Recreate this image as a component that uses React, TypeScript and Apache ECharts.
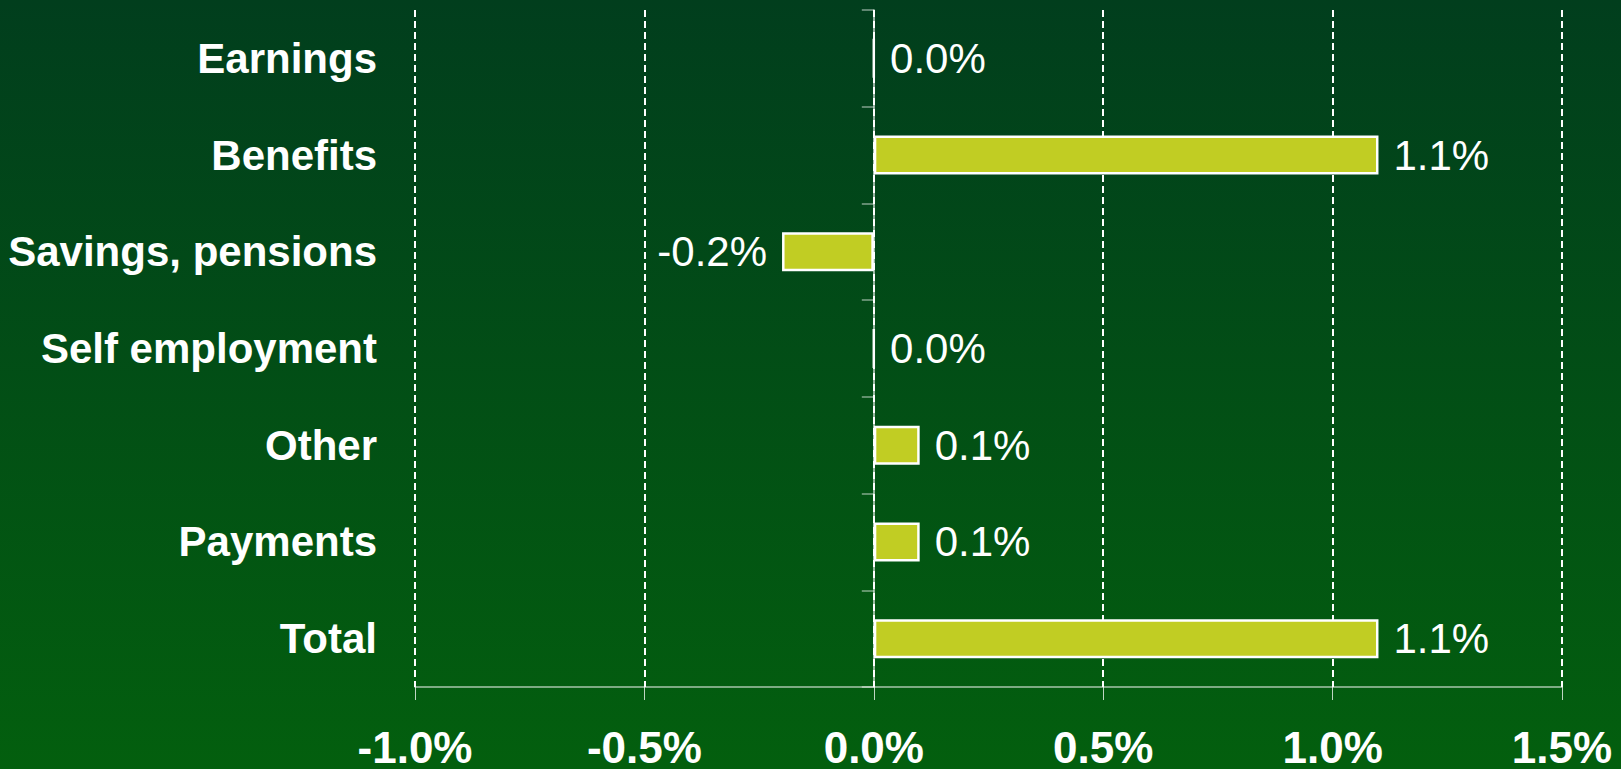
import React, { useEffect, useRef } from "react";
import * as echarts from "echarts";

const categories = ["Earnings", "Benefits", "Savings, pensions", "Self employment", "Other", "Payments", "Total"];
const values = [0.0, 1.1, -0.2, 0.0, 0.1, 0.1, 1.1];
const xTicks = { min: -1.0, max: 1.5, interval: 0.5 };

const FONT = "'Liberation Sans', Arial, Helvetica, sans-serif";

export default function App() {
  const ref = useRef<HTMLDivElement>(null);
  useEffect(() => {
    if (!ref.current) return;
    const chart = echarts.init(ref.current, null, { renderer: "svg" });
    const pct = (v: number) => v.toFixed(1) + "%";
    chart.setOption({
      animation: false,
      backgroundColor: "transparent",
      grid: { left: 415, right: 59, top: 10, bottom: 79, containLabel: false },
      xAxis: {
        type: "value",
        min: xTicks.min,
        max: xTicks.max,
        interval: xTicks.interval,
        axisLine: { show: true, onZero: false, lineStyle: { color: "rgba(255,255,255,0.65)", width: 1.5 } },
        axisTick: { show: true, length: 13, lineStyle: { color: "rgba(255,255,255,0.75)", width: 1 } },
        axisLabel: {
          color: "#ffffff",
          fontFamily: FONT,
          fontWeight: "bold",
          fontSize: 44,
          margin: 38,
          formatter: (v: number) => pct(v),
        },
        splitLine: { show: true, lineStyle: { color: "#ffffff", type: [7, 4], width: 2 } },
      },
      yAxis: [
        {
          type: "category",
          data: categories,
          inverse: true,
          position: "left",
          axisLine: { show: false, onZero: false },
          axisTick: { show: false },
          axisLabel: {
            color: "#ffffff",
            fontFamily: FONT,
            fontWeight: "bold",
            fontSize: 42,
            margin: 38,
          },
          splitLine: { show: false },
        },
        {
          type: "category",
          data: categories,
          inverse: true,
          position: "left",
          axisLine: { show: true, onZero: true, lineStyle: { color: "rgba(255,255,255,0.8)", width: 1.5 } },
          axisTick: { show: true, length: 12, lineStyle: { color: "rgba(255,255,255,0.5)", width: 1.5 } },
          axisLabel: { show: false },
          splitLine: { show: false },
        },
      ],
      series: [
        {
          type: "bar",
          yAxisIndex: 0,
          barWidth: 39,
          itemStyle: { color: "#c1cd23", borderColor: "#ffffff", borderWidth: 2.5 },
          label: {
            show: true,
            position: "right",
            distance: 15,
            color: "#ffffff",
            fontFamily: FONT,
            fontSize: 42,
            formatter: (p: any) => pct(p.value),
          },
          data: values.map((v) =>
            v < 0 ? { value: v, label: { position: "left" } } : { value: v }
          ),
        },
      ],
    });
    return () => chart.dispose();
  }, []);
  return (
    <div
      style={{
        position: "fixed",
        left: 0,
        top: 0,
        width: 1621,
        height: 769,
        background: "linear-gradient(to bottom, #013e1d 0%, #035f0e 100%)",
      }}
    >
      <div ref={ref} style={{ width: 1621, height: 769 }} />
    </div>
  );
}
